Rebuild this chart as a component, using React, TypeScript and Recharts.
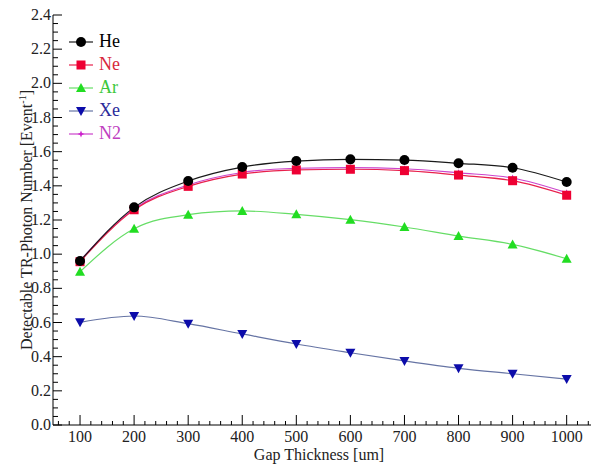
import React from "react";
import { Legend, Line, LineChart, XAxis, YAxis } from "recharts";

const gaps = [100, 200, 300, 400, 500, 600, 700, 800, 900, 1000];
const he = [0.96, 1.274, 1.428, 1.51, 1.545, 1.555, 1.551, 1.532, 1.506, 1.422];
const ne = [0.956, 1.26, 1.397, 1.469, 1.493, 1.497, 1.489, 1.463, 1.43, 1.345];
const ar = [0.897, 1.149, 1.231, 1.253, 1.233, 1.202, 1.159, 1.106, 1.057, 0.973];
const xe = [0.601, 0.638, 0.593, 0.533, 0.474, 0.423, 0.375, 0.332, 0.3, 0.269];
const n2 = [0.962, 1.266, 1.405, 1.478, 1.503, 1.507, 1.5, 1.476, 1.446, 1.36];

const xMajorTicks = [100, 200, 300, 400, 500, 600, 700, 800, 900, 1000];
const yMajorTicks = [0, 0.2, 0.4, 0.6, 0.8, 1.0, 1.2, 1.4, 1.6, 1.8, 2.0, 2.2, 2.4];

const FONT = "'Liberation Serif', 'Times New Roman', serif";

// minor ticks: every 20 on x, every 0.05 on y
const xTicks = xMajorTicks.flatMap((m) => [m - 40, m - 20, m, m + 20, m + 40]).filter(
  (v, i, arr) => arr.indexOf(v) === i
);
const yTicks = yMajorTicks.flatMap((m, i) =>
  i < yMajorTicks.length - 1 ? [m, m + 0.05, m + 0.1, m + 0.15] : [m]
);

const isMajor = (v: number, majors: number[]) => majors.some((m) => Math.abs(m - v) < 1e-6);

type MarkerKind = "circle" | "square" | "up" | "down" | "star";

type Series = {
  key: string;
  name: string;
  values: number[];
  line: string;
  fill: string;
  text: string;
  marker: MarkerKind;
};

const series: Series[] = [
  { key: "he", name: "He", values: he, line: "#1a1a1a", fill: "#000000", text: "#000000", marker: "circle" },
  { key: "ne", name: "Ne", values: ne, line: "#e8204c", fill: "#ee0033", text: "#d8283c", marker: "square" },
  { key: "ar", name: "Ar", values: ar, line: "#66dd66", fill: "#22dd22", text: "#3cc83c", marker: "up" },
  { key: "xe", name: "Xe", values: xe, line: "#6674a4", fill: "#0c0caa", text: "#2a2a9a", marker: "down" },
  { key: "n2", name: "N2", values: n2, line: "#cc44cc", fill: "#cc22cc", text: "#c040c0", marker: "star" },
];

// N2 goes under Ne so the red squares sit on top
const drawOrder = ["n2", "ne", "ar", "xe", "he"];

const data = gaps.map((g, i) => {
  const row: Record<string, number> = { gap: g };
  series.forEach((s) => (row[s.key] = s.values[i]));
  return row;
});

function Marker({ kind, cx, cy, color }: { kind: MarkerKind; cx: number; cy: number; color: string }) {
  switch (kind) {
    case "circle":
      return <circle cx={cx} cy={cy} r={5} fill={color} />;
    case "square":
      return <rect x={cx - 4.5} y={cy - 4.5} width={9} height={9} fill={color} />;
    case "up":
      return <polygon points={`${cx},${cy - 5} ${cx - 5},${cy + 4} ${cx + 5},${cy + 4}`} fill={color} />;
    case "down":
      return <polygon points={`${cx},${cy + 5} ${cx - 5},${cy - 4} ${cx + 5},${cy - 4}`} fill={color} />;
    default:
      return (
        <polygon
          points={`${cx},${cy - 3.5} ${cx + 1},${cy - 1} ${cx + 3.5},${cy} ${cx + 1},${cy + 1} ${cx},${cy + 3.5} ${cx - 1},${cy + 1} ${cx - 3.5},${cy} ${cx - 1},${cy - 1}`}
          fill={color}
        />
      );
  }
}

type TickProps = { x: number; y: number; payload: { value: number } };

const BottomTick = ({ x, y, payload }: TickProps) => {
  const major = isMajor(payload.value, xMajorTicks);
  return (
    <g>
      <line x1={x} y1={y} x2={x} y2={y - (major ? 10 : 4)} stroke="#000" strokeWidth={1} />
      {major && (
        <text x={x} y={y + 17} textAnchor="middle" fontFamily={FONT} fontSize={16} fill="#222">
          {payload.value}
        </text>
      )}
    </g>
  );
};

const TopTick = ({ x, y, payload }: TickProps) => {
  const major = isMajor(payload.value, xMajorTicks);
  return <line x1={x} y1={y} x2={x} y2={y + (major ? 10 : 4)} stroke="#000" strokeWidth={1} />;
};

const LeftTick = ({ x, y, payload }: TickProps) => {
  const major = isMajor(payload.value, yMajorTicks);
  return (
    <g>
      <line x1={x} y1={y} x2={x + (major ? 9 : 5)} y2={y} stroke="#000" strokeWidth={1} />
      {major && (
        <text x={x - 2} y={y + 5} textAnchor="end" fontFamily={FONT} fontSize={16} fill="#222">
          {payload.value.toFixed(1)}
        </text>
      )}
    </g>
  );
};

const RightTick = ({ x, y, payload }: TickProps) => {
  const major = isMajor(payload.value, yMajorTicks);
  return <line x1={x} y1={y} x2={x - (major ? 9 : 5)} y2={y} stroke="#000" strokeWidth={1} />;
};

const XTitle = () => (
  <text x={319} y={460} textAnchor="middle" fontFamily={FONT} fontSize={16} fill="#222">
    Gap Thickness [um]
  </text>
);

const YTitle = () => (
  <text
    x={32}
    y={220}
    transform="rotate(-90 32 220)"
    textAnchor="middle"
    fontFamily={FONT}
    fontSize={16}
    fill="#222"
  >
    Detectable TR-Photon Number [Event
    <tspan dy={-6} fontSize={10}>-1</tspan>
    <tspan dy={6}>]</tspan>
  </text>
);

const LegendBox = () => (
  <div style={{ fontFamily: FONT }}>
    {series.map((s) => (
      <div key={s.key} style={{ display: "flex", alignItems: "center", height: 23 }}>
        <svg width={28} height={14} style={{ display: "block", flex: "none" }}>
          <line x1={2} y1={7} x2={26} y2={7} stroke={s.line} strokeWidth={1.2} />
          <Marker kind={s.marker} cx={14} cy={7} color={s.fill} />
        </svg>
        <span style={{ color: s.text, fontSize: 18, marginLeft: 4, lineHeight: "23px" }}>{s.name}</span>
      </div>
    ))}
  </div>
);

export default function App() {
  return (
    <div style={{ position: "absolute", left: 0, top: 0, width: 594, height: 465, background: "#fff" }}>
      <LineChart width={594} height={465} data={data} margin={{ top: 15, right: 3, bottom: 0, left: 0 }}>
        <XAxis
          xAxisId="bottom"
          dataKey="gap"
          type="number"
          domain={[50, 1045]}
          ticks={xTicks}
          interval={0}
          height={40}
          tickSize={0}
          tickMargin={0}
          tickLine={false}
          axisLine={{ stroke: "#000" }}
          tick={BottomTick as never}
          label={<XTitle />}
        />
        <XAxis
          xAxisId="top"
          orientation="top"
          dataKey="gap"
          type="number"
          domain={[50, 1045]}
          ticks={xTicks}
          interval={0}
          height={0}
          tickSize={0}
          tickMargin={0}
          tickLine={false}
          axisLine={{ stroke: "#000" }}
          tick={TopTick as never}
        />
        <YAxis
          yAxisId="left"
          type="number"
          domain={[0, 2.4]}
          ticks={yTicks}
          interval={0}
          width={53}
          tickSize={0}
          tickMargin={0}
          tickLine={false}
          axisLine={{ stroke: "#000" }}
          tick={LeftTick as never}
          label={<YTitle />}
        />
        <YAxis
          yAxisId="right"
          orientation="right"
          type="number"
          domain={[0, 2.4]}
          ticks={yTicks}
          interval={0}
          width={0}
          tickSize={0}
          tickMargin={0}
          tickLine={false}
          axisLine={{ stroke: "#000" }}
          tick={RightTick as never}
        />
        <Legend
          layout="horizontal"
          verticalAlign="middle"
          align="center"
          content={() => <LegendBox />}
          wrapperStyle={{ left: 67, top: 30, width: 80, height: 120 }}
        />
        {drawOrder.map((k) => {
          const s = series.find((x) => x.key === k)!;
          return (
            <Line
              key={s.key}
              xAxisId="bottom"
              yAxisId="left"
              type="monotone"
              dataKey={s.key}
              name={s.name}
              stroke={s.line}
              strokeWidth={1.2}
              isAnimationActive={false}
              dot={(p: { cx: number; cy: number; index: number }) => (
                <Marker key={`${s.key}-${p.index}`} kind={s.marker} cx={p.cx} cy={p.cy} color={s.fill} />
              )}
              activeDot={false}
            />
          );
        })}
      </LineChart>
    </div>
  );
}
